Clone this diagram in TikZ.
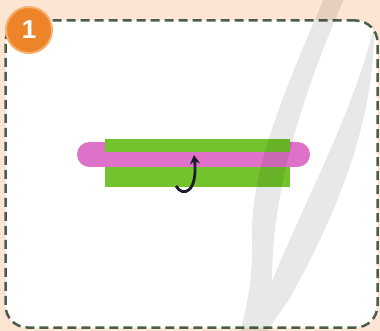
\documentclass[tikz,border=0pt]{standalone}
\usepackage{fontspec}
\setsansfont{Liberation Sans}
\usepackage{tikz}
\usetikzlibrary{arrows.meta}
\usepackage{xcolor}
\definecolor{peachbg}{RGB}{252,229,211}
\definecolor{frameline}{RGB}{74,94,74}
\definecolor{badgeorange}{RGB}{238,132,42}
\definecolor{badgering}{RGB}{246,176,110}
\definecolor{strawpink}{RGB}{222,114,200}
\definecolor{leafgreen}{RGB}{115,196,44}
\definecolor{twistink}{RGB}{30,28,44}
\tikzset{
panelbox/.style={rectangle,rounded corners=22pt,draw=frameline,line width=2.5pt,
  dash pattern=on 9pt off 5pt,fill=white,minimum width=372pt,minimum height=307pt,
  inner sep=0pt,outer sep=0pt},
badge/.style={circle,fill=badgeorange,draw=badgering,line width=2pt,minimum size=46pt,
  inner sep=0pt,text=white,font=\sffamily\bfseries\fontsize{26}{26}\selectfont},
pinkbar/.style={rectangle,rounded corners=12.5pt,fill=strawpink,minimum width=233pt,
  minimum height=25pt,inner sep=0pt,outer sep=0pt},
greenbar/.style={rectangle,fill=leafgreen,minimum width=185pt,minimum height=48pt,
  inner sep=0pt,outer sep=0pt},
pinkstripe/.style={rectangle,fill=strawpink,minimum width=185pt,minimum height=15pt,
  inner sep=0pt,outer sep=0pt},
twistarr/.style={line width=2.8pt,draw=twistink,-{Stealth[length=9pt,width=10pt]}},
watermark/.style={fill=black,fill opacity=0.09}
}
\begin{document}
\begin{tikzpicture}[x=1pt,y=-1pt]
\useasboundingbox (0,0) rectangle (380,331);
\fill[peachbg] (0,0) rectangle (380,331);
\node[panelbox] (panel) at (191.5,174) {};
\node[pinkbar] (straw) at (193.5,154.5) {};
\node[greenbar] (wrap) at (197.5,163) {};
\node[pinkstripe] (stripe) at (197.5,159.5) {};
\coordinate (twistS) at (176,186);
\coordinate (twistE) at (194,155);
\draw[twistarr] (twistS) .. controls (183,198) and (198,192) .. (twistE);
\fill[watermark] (327,-8) .. controls (275,110) and (250,180) .. (252,240)
  .. controls (253,280) and (246,310) .. (240,333) -- (266,333) -- (290,298)
  .. controls (330,225) and (375,130) .. (374,26)
  .. controls (355,110) and (300,210) .. (272,282)
  .. controls (272,200) and (295,110) .. (347,-8) -- cycle;
\node[badge] (step1) at (29,30) {1};
\end{tikzpicture}
\end{document}
